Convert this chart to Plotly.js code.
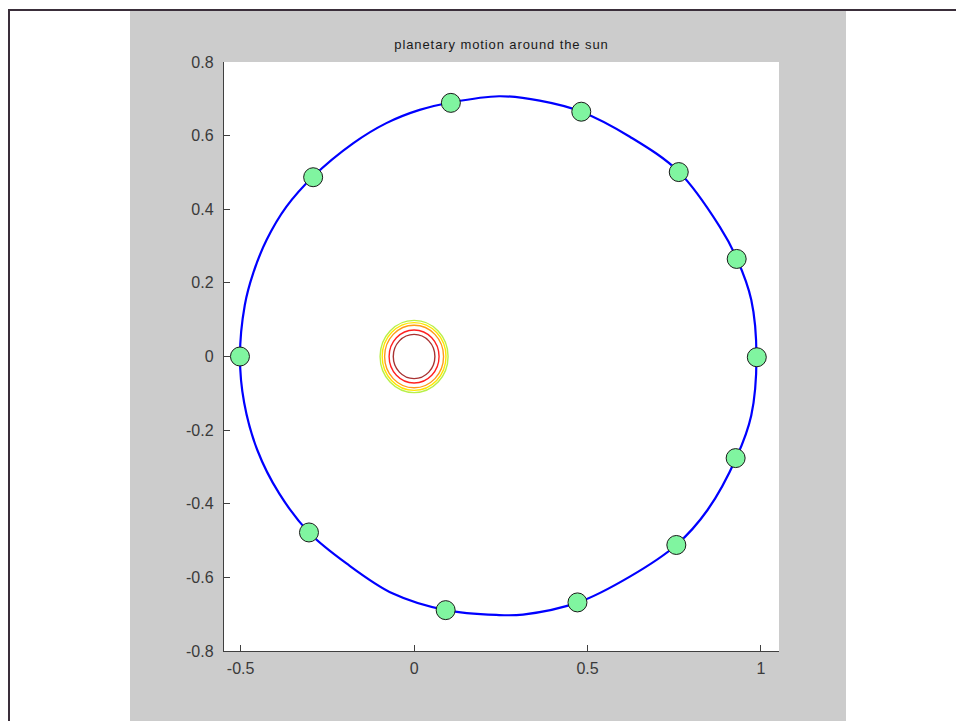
<!DOCTYPE html>
<html>
<head>
<meta charset="utf-8">
<script src="https://cdn.plot.ly/plotly-3.0.1.min.js"></script>
<style>
  html, body { margin: 0; padding: 0; background: #ffffff; width: 956px; height: 721px; overflow: hidden; }
  #frameTop { position: absolute; left: 8px; top: 9px; width: 948px; height: 2px; background: #3a2e3a; }
  #frameLeft { position: absolute; left: 8px; top: 9px; width: 2px; height: 712px; background: #3a2e3a; }
  #chart { position: absolute; left: 130px; top: 11px; width: 716px; height: 710px; }
  #chart .gtitle { letter-spacing: 0.9px; }
</style>
</head>
<body>
<div id="frameTop"></div>
<div id="frameLeft"></div>
<div id="chart"></div>
<script>
// Orbit path (x, y)
const orbitX = [0.987, 0.972, 0.931, 0.881, 0.763, 0.622, 0.482, 0.362, 0.245, 0.106, 0.016, -0.080, -0.176, -0.291, -0.368, -0.425, -0.464, -0.488, -0.502, -0.490, -0.452, -0.389, -0.303, -0.195, -0.061, 0.091, 0.237, 0.314, 0.473, 0.622, 0.756, 0.846, 0.929, 0.972, 0.987];
const orbitY = [0.000, 0.154, 0.265, 0.353, 0.502, 0.597, 0.665, 0.695, 0.707, 0.690, 0.670, 0.634, 0.579, 0.489, 0.407, 0.317, 0.226, 0.140, 0.000, -0.125, -0.254, -0.372, -0.478, -0.562, -0.644, -0.689, -0.702, -0.701, -0.668, -0.598, -0.512, -0.417, -0.275, -0.160, 0.000];

// Planet positions (green markers)
const planetX = [0.988, 0.930, 0.763, 0.482, 0.106, -0.291, -0.502, -0.303, 0.091, 0.471, 0.756, 0.927];
const planetY = [-0.002, 0.265, 0.501, 0.665, 0.689, 0.487, 0.000, -0.478, -0.689, -0.668, -0.512, -0.276];

// Sun contour rings: radius and colour
const sunRadii = [0.098, 0.092, 0.085, 0.072, 0.060];
const sunColors = ['#b8f048', '#ffe600', '#ff9a1a', '#ff2020', '#a83232'];

// Axis ticks
const xTicks = [-0.5, 0, 0.5, 1];
const xTickText = ['-0.5', '0', '0.5', '1'];
const yTicks = [-0.8, -0.6, -0.4, -0.2, 0, 0.2, 0.4, 0.6, 0.8];
const yTickText = ['-0.8', '-0.6', '-0.4', '-0.2', '0', '0.2', '0.4', '0.6', '0.8'];

const titleText = 'planetary motion around the sun';

const shapes = sunRadii.map((r, i) => ({
  type: 'circle', xref: 'x', yref: 'y',
  x0: -r, x1: r, y0: -r, y1: r,
  line: { color: sunColors[i], width: 1.4 },
  layer: 'above'
}));

const traces = [
  {
    x: orbitX, y: orbitY, type: 'scatter', mode: 'lines',
    line: { color: '#0000ff', width: 2.2, shape: 'spline', smoothing: 1.0 },
    hoverinfo: 'skip', showlegend: false
  },
  {
    x: planetX, y: planetY, type: 'scatter', mode: 'markers',
    marker: { size: 19, color: '#80f5a0', line: { color: '#1a1a1a', width: 1 } },
    showlegend: false
  }
];

const tickFont = { family: 'Liberation Sans, Arial, sans-serif', size: 16, color: '#3a3a3a' };

const layout = {
  width: 716, height: 710,
  paper_bgcolor: '#cccccc',
  plot_bgcolor: '#ffffff',
  margin: { l: 94, r: 67, t: 51, b: 70, pad: 0 },
  showlegend: false,
  title: {
    text: titleText,
    font: { family: 'Liberation Sans, Arial, sans-serif', size: 13, color: '#1a1a1a' },
    x: 0.5, xref: 'paper', xanchor: 'center',
    y: 0.9528, yref: 'container', yanchor: 'middle'
  },
  xaxis: {
    range: [-0.548, 1.052],
    tickvals: xTicks, ticktext: xTickText,
    ticks: 'inside', ticklen: 6, tickwidth: 1, tickcolor: '#404040',
    showline: true, linecolor: '#404040', linewidth: 1.2, mirror: false,
    showgrid: false, zeroline: false,
    tickfont: tickFont, ticklabelstandoff: 3
  },
  yaxis: {
    range: [-0.8, 0.8],
    tickvals: yTicks, ticktext: yTickText,
    ticks: 'inside', ticklen: 6, tickwidth: 1, tickcolor: '#404040',
    showline: true, linecolor: '#404040', linewidth: 1.2, mirror: false,
    showgrid: false, zeroline: false,
    tickfont: tickFont, ticklabelstandoff: 6
  },
  shapes: shapes
};

Plotly.newPlot('chart', traces, layout, { displayModeBar: false, staticPlot: true });
</script>
</body>
</html>
